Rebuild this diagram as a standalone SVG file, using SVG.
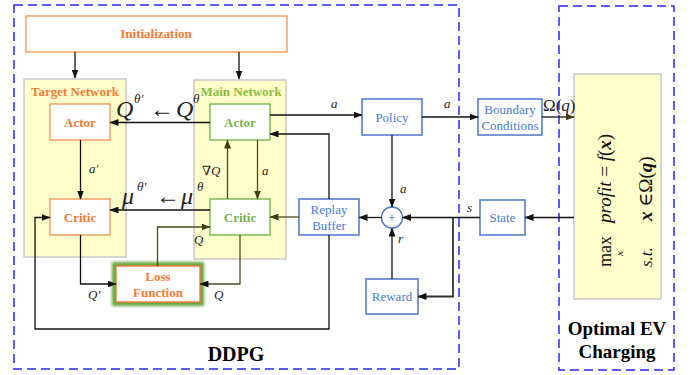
<svg xmlns="http://www.w3.org/2000/svg" width="694" height="375" viewBox="0 0 694 375">
<style>
text{font-family:'Liberation Serif','Times New Roman',Times,'DejaVu Serif',serif}
.dash{fill:none;stroke:#2626ff;stroke-width:1.5;stroke-dasharray:9 5}
.panel{fill:#ffffcc;stroke:#c8c8c8;stroke-width:1.5}
.ob{fill:#fff;stroke:#f4a065;stroke-width:1.5}
.gb{fill:#fff;stroke:#7dbb55;stroke-width:1.5}
.bb{fill:#fff;stroke:#4a76c6;stroke-width:1.5}
.ot{font-weight:bold;fill:#f47a35;font-size:13px;text-anchor:middle}
.gt{font-weight:bold;fill:#78b04a;font-size:13px;text-anchor:middle}
.bt{fill:#4a7bd0;font-size:13px;text-anchor:middle}
.lbl{font-style:italic;fill:#222;font-size:13px}
.big{font-style:italic;fill:#222;font-size:24px}
.sup{font-style:italic;fill:#222;font-size:13px}
.ttl{font-weight:bold;fill:#000;font-size:20px;text-anchor:middle}
.c{fill:none;stroke:#111;stroke-width:1.3}
.co{fill:none;stroke:#4a4a1a;stroke-width:1.3}
</style>
<defs>
<marker id="ah" markerWidth="9" markerHeight="7" refX="8.5" refY="3.5" orient="auto" markerUnits="userSpaceOnUse"><path d="M0,0 L9,3.5 L0,7 Z" fill="#111"/></marker>
<marker id="aho" markerWidth="9" markerHeight="7" refX="8.5" refY="3.5" orient="auto" markerUnits="userSpaceOnUse"><path d="M0,0 L9,3.5 L0,7 Z" fill="#3f3f10"/></marker>
<filter id="glow" x="-20%" y="-30%" width="140%" height="160%"><feGaussianBlur stdDeviation="1.6"/></filter>
</defs>

<rect class="dash" x="14" y="5" width="445" height="364"/>
<rect class="dash" x="559" y="6" width="115" height="364"/>

<g id="target-network"><rect class="panel" x="24" y="79" width="102" height="178"/><text class="ot" x="75" y="96">Target Network</text></g>
<g id="main-network"><rect class="panel" x="194" y="80" width="92" height="179"/><text class="gt" x="241" y="96" style="fill:#8dba40">Main Network</text></g>

<g id="initialization"><rect class="ob" x="26" y="16" width="261" height="36"/><text class="ot" x="156" y="38">Initialization</text></g>
<g id="target-actor"><rect class="ob" x="50" y="104" width="60" height="36"/><text class="ot" x="80" y="127">Actor</text></g>
<g id="target-critic"><rect class="ob" x="50" y="199" width="60" height="36"/><text class="ot" x="80" y="222">Critic</text></g>
<g id="main-actor"><rect class="gb" x="210" y="104" width="60" height="36"/><text class="gt" x="240" y="127">Actor</text></g>
<g id="main-critic"><rect class="gb" x="210" y="199" width="60" height="36"/><text class="gt" x="240" y="222">Critic</text></g>
<g id="loss-function"><rect x="116" y="266" width="84" height="36" fill="none" stroke="#5fa63a" stroke-width="8" filter="url(#glow)"/><rect class="ob" x="116" y="266" width="84" height="36" style="stroke:#f08040"/><text class="ot" x="158" y="281">Loss</text><text class="ot" x="158" y="297">Function</text></g>
<g id="policy"><rect class="bb" x="362" y="99" width="60" height="36"/><text class="bt" x="392" y="122">Policy</text></g>
<g id="boundary-conditions"><rect class="bb" x="478" y="99" width="64" height="36"/><text class="bt" x="510" y="114">Boundary</text><text class="bt" x="510" y="130">Conditions</text></g>
<g id="replay-buffer"><rect class="bb" x="299" y="199" width="60" height="36"/><text class="bt" x="329" y="214">Replay</text><text class="bt" x="329" y="230">Buffer</text></g>
<g id="sum"><circle cx="392" cy="217.5" r="10.5" fill="#fff" stroke="#4a76c6" stroke-width="1.3"/><text class="bt" x="392" y="222" style="fill:#555">+</text></g>
<g id="reward"><rect class="bb" x="366" y="279" width="52" height="35"/><text class="bt" x="392" y="301">Reward</text></g>
<g id="state"><rect class="bb" x="480" y="200" width="45" height="35"/><text class="bt" x="502.5" y="222">State</text></g>
<g id="optimization"><rect class="panel" x="574" y="74" width="87" height="225"/>
<g transform="translate(611,267) rotate(-90)" fill="#111">
<text x="0" y="0" font-size="18">max</text>
<text x="11" y="12" font-size="11" font-style="italic">x</text>
<text x="44" y="0" font-size="19" font-style="italic">profit <tspan font-style="normal">=</tspan> f<tspan font-style="normal">(</tspan><tspan font-weight="bold">x</tspan><tspan font-style="normal">)</tspan></text>
<text x="0" y="41" font-size="17" font-style="italic">s.t.</text>
<text x="46" y="41" font-size="19"><tspan font-weight="bold" font-style="italic">x</tspan> ∈Ω(<tspan font-weight="bold" font-style="italic">q</tspan>)</text>
</g></g>

<g id="connectors">
<path class="c" d="M75,52 V78" marker-end="url(#ah)"/>
<path class="c" d="M239,52 V79" marker-end="url(#ah)"/>
<path class="c" d="M210,122.5 H110" marker-end="url(#ah)"/>
<path class="c" d="M210,210 H110" marker-end="url(#ah)"/>
<path class="c" d="M80.5,140 V199" marker-end="url(#ah)"/>
<path class="co" d="M227.5,199 V140" marker-end="url(#aho)"/>
<path class="co" d="M257.5,140 V199" marker-end="url(#aho)"/>
<path class="c" d="M270,115 H362" marker-end="url(#ah)"/>
<path class="c" d="M329,199 V134 H270" marker-end="url(#ah)"/>
<path class="co" d="M299,217 H270" marker-end="url(#aho)"/>
<path class="c" d="M329,235 V329 H35 V217.5 H50" marker-end="url(#ah)"/>
<path class="c" d="M80.5,235 V284 H116" marker-end="url(#ah)"/>
<path class="co" d="M240,235 V284 H200" marker-end="url(#ah)"/>
<path class="co" d="M157.5,266 V227 H210" marker-end="url(#aho)"/>
<path class="c" d="M392,135 V207" marker-end="url(#ah)"/>
<path class="c" d="M422,117 H478" marker-end="url(#ah)"/>
<path class="c" d="M542,117 H574" marker-end="url(#aho)"/>
<path class="c" d="M574,217.5 H525" marker-end="url(#ah)"/>
<path class="c" d="M480,217.5 H402.5" marker-end="url(#ah)"/>
<path class="c" d="M453,217.5 V296.5 H418" style="stroke-width:1.8;stroke:#333" marker-end="url(#ah)"/>
<path class="c" d="M392,279 V228" marker-end="url(#ah)"/>
<path class="c" d="M381.5,217.5 H359" marker-end="url(#ah)"/>
</g>

<g id="labels">
<text class="big" x="116" y="117">Q</text><text class="sup" x="134" y="103">θ'</text>
<text x="150" y="117" font-size="24" fill="#222">←</text>
<text class="big" x="176" y="117">Q</text><text class="sup" x="193" y="103">θ</text>
<text class="big" x="122" y="204">μ</text><text class="sup" x="137" y="191">θ'</text>
<text x="156" y="204" font-size="24" fill="#222">←</text>
<text class="big" x="181" y="204">μ</text><text class="sup" x="197" y="191">θ</text>
<text class="lbl" x="89" y="173">a'</text>
<text class="lbl" x="202" y="175" style="font-style:normal">∇<tspan font-style="italic">Q</tspan></text>
<text class="lbl" x="262" y="175">a</text>
<text class="lbl" x="331" y="108">a</text>
<text class="lbl" x="444" y="108">a</text>
<text x="543" y="111" font-size="17" fill="#222">Ω(<tspan font-style="italic">q</tspan>)</text>
<text class="lbl" x="400" y="193">a</text>
<text class="lbl" x="398" y="243">r</text>
<text class="lbl" x="467" y="212">s</text>
<text class="lbl" x="88" y="299">Q'</text>
<text class="lbl" x="214" y="299">Q</text>
<text class="lbl" x="194" y="244">Q</text>
<text class="ttl" x="236" y="361">DDPG</text>
<text class="ttl" x="617" y="335" style="font-size:19px">Optimal EV</text>
<text class="ttl" x="617" y="358" style="font-size:19px">Charging</text>
</g>
</svg>
